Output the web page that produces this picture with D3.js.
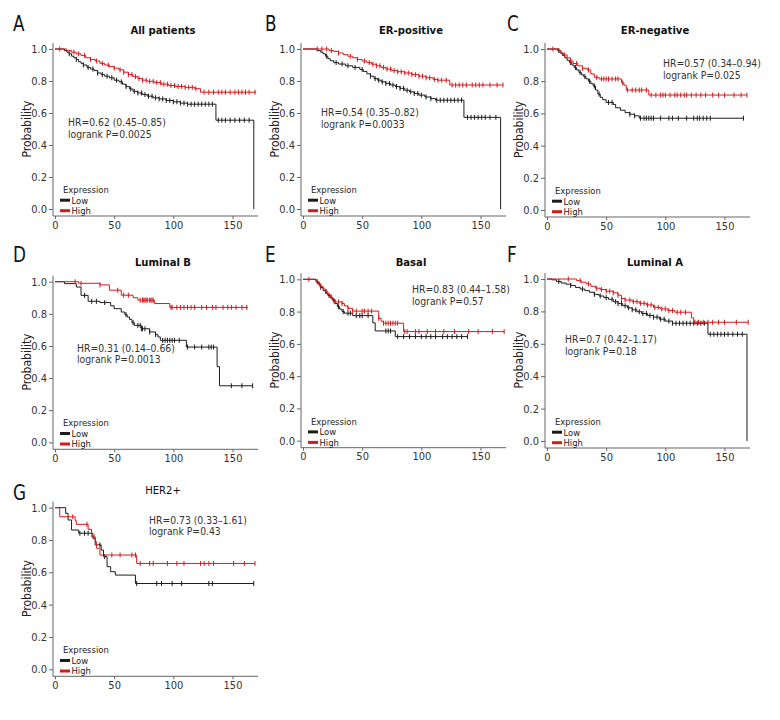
<!DOCTYPE html>
<html>
<head>
<meta charset="utf-8">
<script src="https://cdn.jsdelivr.net/npm/d3@7"></script>
<style>
body { margin: 0; background: #fff; }
svg text { font-family: "Liberation Sans Narrow", "DejaVu Sans Condensed", sans-serif; }
</style>
</head>
<body>
<script>
var width = 780, height = 720;

var tickY = [0, 0.2, 0.4, 0.6, 0.8, 1.0];
var tickX = [0, 50, 100, 150];

// steps are [months, survival]; last point is end of follow-up
var allLow = [[8,0.99],[10,0.98],[12,0.97],[14,0.955],[16,0.945],[18,0.935],[20,0.92],[22,0.91],[24,0.9],[27,0.885],[30,0.875],[33,0.865],[36,0.85],[39,0.84],[42,0.83],[46,0.82],[50,0.805],[54,0.795],[57,0.78],[60,0.765],[63,0.75],[66,0.735],[70,0.725],[74,0.715],[78,0.705],[83,0.695],[88,0.688],[94,0.678],[100,0.67],[106,0.662],[112,0.655],[136,0.555],[168,0]];
var allLowCens = [12,18,24,28,32,36,40,44,48,52,56,60,64,67,70,73,76,79,82,85,88,91,94,97,100,103,106,109,112,115,118,121,124,127,130,133,138,141,144,148,152,156,160,164];
var allHigh = [[10,0.99],[14,0.98],[18,0.97],[22,0.96],[26,0.945],[30,0.935],[34,0.925],[38,0.91],[42,0.9],[46,0.89],[50,0.88],[54,0.87],[58,0.855],[62,0.84],[66,0.827],[70,0.815],[74,0.805],[78,0.798],[84,0.79],[90,0.78],[96,0.772],[102,0.766],[110,0.76],[118,0.752],[123,0.73],[170,0.73]];
var allHighCens = [4,16,20,25,30,35,40,45,50,55,58,62,65,68,71,74,77,80,83,86,89,92,95,98,101,104,107,110,113,116,119,126,130,134,138,141,144,148,152,155,158,161,164,169];

var erpLow = [[12,0.99],[15,0.98],[17,0.97],[19,0.955],[21,0.94],[23,0.927],[26,0.915],[30,0.906],[36,0.895],[42,0.885],[48,0.872],[51,0.86],[54,0.845],[57,0.83],[60,0.815],[63,0.805],[66,0.795],[70,0.785],[74,0.775],[78,0.765],[82,0.754],[86,0.742],[90,0.732],[94,0.722],[98,0.712],[103,0.7],[108,0.69],[112,0.68],[136,0.573],[167,0]];
var erpLowCens = [20,28,33,38,44,50,57,61,64,67,70,73,76,79,82,85,88,91,94,97,100,104,108,113,116,119,122,125,128,131,134,139,142,145,148,151,154,158,163];
var erpHigh = [[22,0.99],[26,0.985],[30,0.975],[34,0.965],[38,0.955],[42,0.945],[46,0.935],[50,0.925],[54,0.915],[58,0.905],[62,0.895],[66,0.885],[70,0.875],[75,0.865],[80,0.858],[86,0.85],[92,0.84],[98,0.83],[104,0.82],[110,0.81],[114,0.805],[124,0.775],[169,0.775]];
var erpHighCens = [12,16,20,24,30,40,46,52,56,59,62,65,68,71,74,77,80,83,86,89,92,95,98,101,104,107,111,114,117,121,126,129,132,135,138,143,146,149,152,158,164,169];

var ernLow = [[9,0.99],[11,0.975],[13,0.96],[15,0.945],[17,0.93],[19,0.915],[21,0.9],[23,0.885],[25,0.87],[27,0.855],[29,0.84],[31,0.828],[33,0.815],[35,0.8],[37,0.785],[39,0.77],[41,0.745],[43,0.72],[45,0.7],[47,0.685],[50,0.668],[56,0.655],[58,0.635],[62,0.62],[66,0.605],[70,0.595],[74,0.585],[78,0.57],[166,0.57]];
var ernLowCens = [10,20,24,28,32,36,40,44,52,55,70,74,79,82,84,86,88,90,96,103,106,111,118,124,127,129,132,135,138,166];
var ernHigh = [[10,0.99],[12,0.975],[14,0.963],[17,0.945],[20,0.925],[22,0.91],[26,0.895],[30,0.88],[34,0.87],[37,0.845],[40,0.824],[44,0.814],[63,0.79],[65,0.775],[67,0.745],[86,0.714],[169,0.714]];
var ernHighCens = [5,15,20,25,30,35,42,46,48,50,52,55,58,60,64,68,72,75,78,80,84,88,92,96,98,100,104,108,110,113,116,118,122,126,130,134,140,145,150,158,164,169];

var lumbLow = [[8,0.988],[18,0.967],[22,0.915],[28,0.878],[38,0.87],[47,0.85],[50,0.832],[56,0.811],[59,0.795],[61,0.78],[63,0.765],[65,0.745],[67,0.728],[73,0.707],[80,0.687],[85,0.67],[87,0.656],[89,0.635],[111,0.593],[137,0.471],[139,0.352],[167,0.352]];
var lumbLowCens = [25,31,35,42,60,66,70,72,73,74,76,80,85,91,93,95,97,99,101,105,112,118,124,130,132,134,149,158,167];
var lumbHigh = [[20,0.99],[38,0.98],[46,0.947],[56,0.916],[66,0.9],[70,0.885],[84,0.864],[97,0.84],[163,0.84]];
var lumbHighCens = [17,22,38,53,58,62,72,74,75,76,77,78,80,81,82,83,98,99,103,106,109,112,115,118,124,128,133,136,142,146,149,153,158,162];

var basLow = [[11,0.985],[13,0.97],[15,0.95],[17,0.93],[19,0.913],[21,0.9],[23,0.885],[25,0.87],[27,0.85],[29,0.83],[31,0.815],[33,0.8],[35,0.79],[42,0.775],[59,0.73],[61,0.68],[78,0.645],[139,0.645]];
var basLowCens = [12,15,22,26,30,34,38,40,45,48,50,55,70,72,74,80,85,90,95,100,104,108,112,118,122,126,130,134,139];
var basHigh = [[11,0.985],[13,0.97],[15,0.955],[17,0.94],[19,0.923],[21,0.905],[23,0.89],[25,0.875],[27,0.86],[33,0.85],[35,0.835],[38,0.82],[42,0.803],[64,0.758],[66,0.74],[68,0.728],[85,0.676],[170,0.676]];
var basHighCens = [5,14,20,24,27,30,33,38,42,45,50,52,55,58,64,68,70,72,74,76,78,80,86,88,95,98,105,112,119,128,140,148,160,170];

var lumaLow = [[4,0.995],[8,0.985],[12,0.975],[16,0.968],[20,0.96],[24,0.948],[28,0.938],[32,0.928],[36,0.918],[40,0.905],[44,0.895],[48,0.885],[52,0.875],[56,0.86],[60,0.848],[64,0.835],[68,0.822],[72,0.81],[76,0.798],[80,0.787],[85,0.775],[90,0.765],[95,0.752],[100,0.74],[106,0.727],[136,0.659],[169,0]];
var lumaLowCens = [10,20,30,40,45,50,55,58,60,63,66,69,72,75,78,81,84,87,90,93,96,99,103,106,109,112,115,118,121,124,127,130,133,138,141,144,147,150,153,157,161,165];
var lumaHigh = [[25,0.99],[29,0.98],[33,0.97],[37,0.955],[41,0.943],[45,0.935],[50,0.925],[56,0.915],[60,0.9],[63,0.88],[66,0.87],[72,0.86],[78,0.85],[84,0.84],[90,0.825],[96,0.815],[102,0.805],[108,0.795],[122,0.76],[124,0.733],[170,0.733]];
var lumaHighCens = [18,28,35,42,46,50,53,56,60,63,66,70,73,76,79,82,85,88,91,94,97,100,103,106,110,113,117,125,128,132,136,140,145,150,160,170];

var her2Low = [[9,0.965],[11,0.924],[14,0.862],[20,0.842],[32,0.81],[34,0.77],[39,0.738],[41,0.697],[44,0.635],[47,0.604],[51,0.583],[68,0.531],[168,0.531]];
var her2LowCens = [21,25,28,38,42,69,86,90,99,107,130,133,168];
var her2High = [[4,0.944],[17,0.92],[18,0.897],[28,0.866],[31,0.82],[34,0.79],[35,0.749],[38,0.707],[69,0.655],[169,0.655]];
var her2HighCens = [15,27,33,48,55,65,68,72,80,83,95,103,109,123,126,130,134,151,160,169];

var letters = ["A", "B", "C", "D", "E", "F", "G"];
var titles = ["All patients", "ER-positive", "ER-negative", "Luminal B", "Basal", "Luminal A", "HER2+"];
var hrLines = ["HR=0.62 (0.45\u20130.85)", "HR=0.54 (0.35\u20130.82)", "HR=0.57 (0.34\u20130.94)", "HR=0.31 (0.14\u20130.66)", "HR=0.83 (0.44\u20131.58)", "HR=0.7 (0.42\u20131.17)", "HR=0.73 (0.33\u20131.61)"];
var pLines = ["logrank P=0.0025", "logrank P=0.0033", "logrank P=0.025", "logrank P=0.0013", "logrank P=0.57", "logrank P=0.18", "logrank P=0.43"];
var legendTitle = "Expression";
var groups = ["Low", "High"];

var lowSets = [allLow, erpLow, ernLow, lumbLow, basLow, lumaLow, her2Low];
var lowCens = [allLowCens, erpLowCens, ernLowCens, lumbLowCens, basLowCens, lumaLowCens, her2LowCens];
var highSets = [allHigh, erpHigh, ernHigh, lumbHigh, basHigh, lumaHigh, her2High];
var highCens = [allHighCens, erpHighCens, ernHighCens, lumbHighCens, basHighCens, lumaHighCens, her2HighCens];

var colLow = "#1c1c1c", colHigh = "#d7191c";

// panel frames: left = y axis x, top = y(1), bottom = y(0)
var frames = [
  {left: 53,  top: 49,    bottom: 209,   letterX: 13,  letterY: 31,  titleY: 34,  hrX: 15,  hrY: 77},
  {left: 301, top: 49,    bottom: 209,   letterX: 265, letterY: 31,  titleY: 34,  hrX: 20,  hrY: 67},
  {left: 545, top: 49,    bottom: 210,   letterX: 507, letterY: 31,  titleY: 34,  hrX: 118, hrY: 18},
  {left: 53,  top: 281.7, bottom: 442.3, letterX: 13,  letterY: 262, titleY: 266, hrX: 24,  hrY: 70},
  {left: 301, top: 279.3, bottom: 440.7, letterX: 265, letterY: 262, titleY: 266, hrX: 111, hrY: 14},
  {left: 545, top: 279,   bottom: 441,   letterX: 507, letterY: 262, titleY: 266, hrX: 20,  hrY: 64},
  {left: 53,  top: 507.7, bottom: 669.3, letterX: 13,  letterY: 500, titleY: 494, hrX: 96,  hrY: 16}
];

var svg = d3.select("body").append("svg")
    .attr("width", width)
    .attr("height", height);

function label(g, x, y, str, size, sx, anchor, weight) {
  return g.append("text")
      .attr("transform", "translate(" + x + "," + y + ")scale(" + sx + ",1)")
      .attr("text-anchor", anchor || "start")
      .attr("font-size", size)
      .attr("font-weight", weight || "normal")
      .attr("fill", "#222")
      .text(str);
}

function survAt(steps, t) {
  var s = 1;
  steps.forEach(function(p) { if (p[0] <= t) s = p[1]; });
  return s;
}

function drawCurve(g, x, y, steps, cens, color) {
  var line = d3.line()
      .x(function(d) { return x(d[0]); })
      .y(function(d) { return y(d[1]); })
      .curve(d3.curveStepAfter);
  g.append("path")
      .attr("d", line([[0, 1]].concat(steps)))
      .attr("fill", "none")
      .attr("stroke", color)
      .attr("stroke-width", 1);
  g.selectAll(null)
      .data(cens)
      .enter()
      .append("line")
      .attr("x1", function(d) { return x(d); })
      .attr("x2", function(d) { return x(d); })
      .attr("y1", function(d) { return y(survAt(steps, d)) - 2.5; })
      .attr("y2", function(d) { return y(survAt(steps, d)) + 2.5; })
      .attr("stroke", color)
      .attr("stroke-width", 1);
}

frames.forEach(function(f, i) {
  var xScale = d3.scaleLinear().domain([0, 150]).range([f.left + 2, f.left + 179.5]);
  var yScale = d3.scaleLinear().domain([0, 1]).range([f.bottom, f.top]);
  var base = f.bottom + 7;
  var g = svg.append("g");

  label(g, f.letterX, f.letterY, letters[i], 22, 0.85).attr("fill", "#111");
  label(g, f.left + 110, f.titleY, titles[i], 11.2, 1, "middle", i == 6 ? "normal" : "bold").attr("fill", "#111");

  // axes
  g.append("line")
      .attr("x1", f.left).attr("x2", f.left)
      .attr("y1", f.top - 6).attr("y2", base)
      .attr("stroke", "#666");
  g.append("line")
      .attr("x1", f.left).attr("x2", f.left + 205)
      .attr("y1", base).attr("y2", base)
      .attr("stroke", "#666");

  var yAxis = g.append("g")
      .attr("transform", "translate(" + f.left + ",0)")
      .call(d3.axisLeft(yScale).tickValues(tickY).tickFormat(d3.format(".1f")).tickSize(4).tickPadding(2));
  var xAxis = g.append("g")
      .attr("transform", "translate(0," + base + ")")
      .call(d3.axisBottom(xScale).tickValues(tickX).tickSize(3).tickPadding(2));
  [yAxis, xAxis].forEach(function(a) {
    a.select(".domain").remove();
    a.selectAll(".tick line").attr("stroke", "#666");
    a.selectAll(".tick text")
        .attr("fill", "#333")
        .attr("font-size", 11)
        .style("font-family", "'Liberation Sans Narrow', 'DejaVu Sans Condensed', sans-serif");
  });

  g.append("text")
      .attr("transform", "translate(" + (f.left - 22) + "," + ((f.top + f.bottom) / 2) + ")rotate(-90)")
      .attr("text-anchor", "middle")
      .attr("font-size", 12)
      .attr("fill", "#222")
      .text("Probability");

  drawCurve(g, xScale, yScale, lowSets[i], lowCens[i], colLow);
  drawCurve(g, xScale, yScale, highSets[i], highCens[i], colHigh);

  label(g, f.left + f.hrX, f.top + f.hrY, hrLines[i], 10.3, 1).attr("fill", "#333");
  label(g, f.left + f.hrX, f.top + f.hrY + 11.5, pLines[i], 10.3, 1).attr("fill", "#333");

  // legend
  label(g, f.left + 10, f.bottom - 16, legendTitle, 9.4, 1);
  groups.forEach(function(name, k) {
    var ly = f.bottom - 8.8 + k * 10.5;
    g.append("line")
        .attr("x1", f.left + 7).attr("x2", f.left + 17)
        .attr("y1", ly).attr("y2", ly)
        .attr("stroke", k == 0 ? colLow : colHigh)
        .attr("stroke-width", 3);
    label(g, f.left + 18.5, ly + 3.3, name, 9.4, 1);
  });
});
</script>
</body>
</html>
